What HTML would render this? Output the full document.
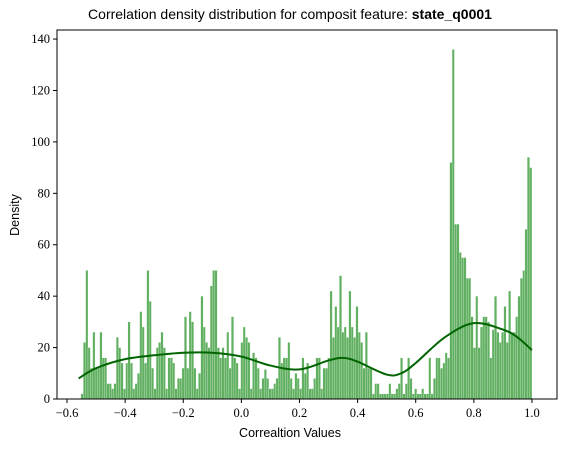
<!DOCTYPE html>
<html><head><meta charset="utf-8"><style>
body{margin:0;background:#fff;}
svg{display:block;font-family:"Liberation Sans",sans-serif;}
.tick{font-family:"Liberation Serif",serif;font-size:12.5px;fill:#000;}
</style></head><body>
<svg id="chart" width="564" height="449">
<text x="290" y="19" text-anchor="middle" font-size="14">Correlation density distribution for composit feature: <tspan font-weight="bold">state_q0001</tspan></text>
<g id="bars"></g>
<path id="kde" fill="none" stroke="#006400" stroke-width="2"></path>
<rect x="57" y="30" width="500" height="369" fill="none" stroke="#000" stroke-width="1"></rect>
<g id="axes"></g>
<text x="290" y="437" text-anchor="middle" font-size="12.5">Correaltion Values</text>
<text transform="translate(19,215) rotate(-90)" text-anchor="middle" font-size="12.5">Density</text>
</svg>
<script>
const counts=[2,22,50,20,12,26,12,12,26,16,16,6,6,4,6,24,20,14,4,14,30,14,4,6,10,34,28,14,50,38,12,4,20,22,26,20,4,16,16,14,4,8,8,12,32,12,34,30,12,4,10,40,28,22,20,44,50,50,20,16,20,16,26,12,32,16,
14,4,22,28,24,22,4,18,16,12,4,8,11.5,8,4,4,6,8,24,14,16,16,22,8,4,10,8,4,16,10,14,4,4,8,16,16,4,12,12,16,42,24,36,28,48,26,28,24,42,28,24,36,26,22,12,26,12,12,2,6,6,2,2,2,2,6,2,
2,4,6,16,2,6,16,8,2,4,2,2,4,2,2,16,2,8,16,16,12,14,18,16,92,136,68,68,57,55,55,47,47,32,20,40,20,28,32,32,30,16,27,40,26,22,26,36,22,42,26,26,32,40,47,50,66,94,90];
const binStart=-0.552, binEnd=1.0;
const kdeX=[-0.56,-0.5,-0.4,-0.3,-0.2,-0.1,0,0.1,0.2,0.3,0.35,0.4,0.5,0.55,0.6,0.7,0.8,0.9,0.95,1.0];
const kdeY=[8,12,15.5,17,18,18,16.5,13,11.5,15,16,14.5,9.5,10,14,24,29.5,27,24,19];
const xTicks=[-0.6,-0.4,-0.2,0,0.2,0.4,0.6,0.8,1.0];
const yTicks=[0,20,40,60,80,100,120,140];
const NS="http://www.w3.org/2000/svg";
function X(v){return 67+(v+0.6)*290.6;}
function Y(v){return 399-v*2.571;}
const bars=document.getElementById('bars');
const w=(binEnd-binStart)/counts.length;
counts.forEach((c,i)=>{
 const r=document.createElementNS(NS,'rect');
 const x0=X(binStart+i*w),x1=X(binStart+(i+1)*w);
 r.setAttribute('x',x0);r.setAttribute('width',x1-x0);
 r.setAttribute('y',Y(c));r.setAttribute('height',Y(0)-Y(c));
 r.setAttribute('fill','#008000');r.setAttribute('fill-opacity','0.62');
 r.setAttribute('stroke','#fff');r.setAttribute('stroke-width','0.2');
 
 
 bars.appendChild(r);
});
const pts=kdeX.map((x,i)=>[X(x),Y(kdeY[i])]);
let d='M'+pts[0][0]+','+pts[0][1];
for(let i=0;i<pts.length-1;i++){
 const p0=pts[Math.max(i-1,0)],p1=pts[i],p2=pts[i+1],p3=pts[Math.min(i+2,pts.length-1)];
 d+=' C'+(p1[0]+(p2[0]-p0[0])/6)+','+(p1[1]+(p2[1]-p0[1])/6)+' '+(p2[0]-(p3[0]-p1[0])/6)+','+(p2[1]-(p3[1]-p1[1])/6)+' '+p2[0]+','+p2[1];
}
document.getElementById('kde').setAttribute('d',d);
const axes=document.getElementById('axes');
xTicks.forEach(t=>{
 const l=document.createElementNS(NS,'line');
 l.setAttribute('x1',X(t));l.setAttribute('x2',X(t));l.setAttribute('y1',399);l.setAttribute('y2',403);l.setAttribute('stroke','#000');
 
 
 axes.appendChild(l);
 const tx=document.createElementNS(NS,'text');
 tx.setAttribute('x',X(t));tx.setAttribute('y',417);tx.setAttribute('text-anchor','middle');tx.setAttribute('class','tick');
 tx.textContent=(t<0?'\u2212':'')+Math.abs(t).toFixed(1);
 
 
 axes.appendChild(tx);
});
yTicks.forEach(t=>{
 const l=document.createElementNS(NS,'line');
 l.setAttribute('x1',53);l.setAttribute('x2',57);l.setAttribute('y1',Y(t));l.setAttribute('y2',Y(t));l.setAttribute('stroke','#000');
 
 
 axes.appendChild(l);
 const tx=document.createElementNS(NS,'text');
 tx.setAttribute('x',50);tx.setAttribute('y',Y(t)+4);tx.setAttribute('text-anchor','end');tx.setAttribute('class','tick');
 tx.textContent=t;
 
 
 axes.appendChild(tx);
});
</script>
</body></html>
